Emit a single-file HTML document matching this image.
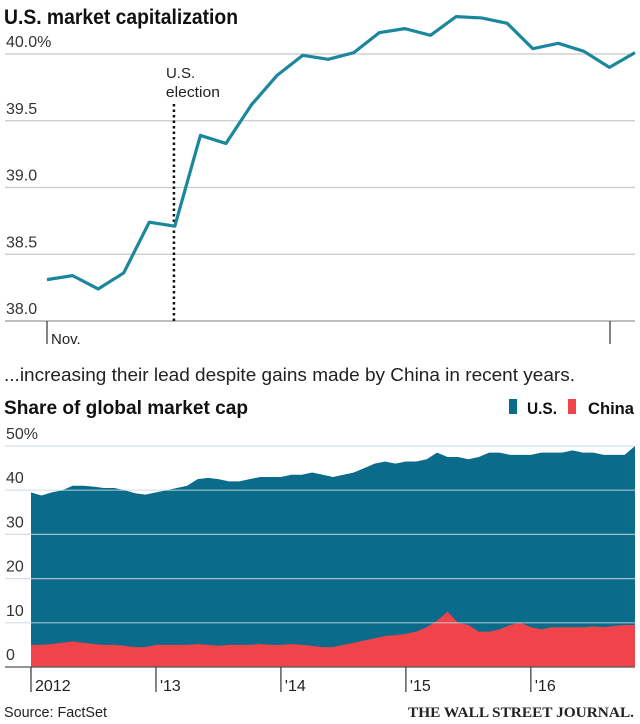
<!DOCTYPE html>
<html><head><meta charset="utf-8">
<style>
html,body{margin:0;padding:0;background:#fff;}
svg{display:block;font-family:"Liberation Sans Narrow","Liberation Sans",sans-serif;}
</style></head>
<body>
<svg id="c" width="640" height="724" viewBox="0 0 640 724">
<text x="4" y="24" font-size="21" font-weight="bold" fill="#111" textLength="234" lengthAdjust="spacingAndGlyphs">U.S. market capitalization</text>
<g id="top"></g>
<text x="4" y="381" font-size="18.5" fill="#222" textLength="571" lengthAdjust="spacingAndGlyphs">...increasing their lead despite gains made by China in recent years.</text>
<text x="4" y="414" font-size="19" font-weight="bold" fill="#111" textLength="244" lengthAdjust="spacingAndGlyphs">Share of global market cap</text>
<g>
<rect x="509" y="399" width="8" height="15" fill="#0b6b8a"/>
<text x="527" y="414" font-size="17" font-weight="bold" fill="#111" textLength="30" lengthAdjust="spacingAndGlyphs">U.S.</text>
<rect x="568" y="399" width="8" height="15" fill="#f0434a"/>
<text x="588" y="414" font-size="17" font-weight="bold" fill="#111" textLength="46" lengthAdjust="spacingAndGlyphs">China</text>
</g>
<g id="bot"></g>
<text x="4" y="717" font-size="15" fill="#222" textLength="103" lengthAdjust="spacingAndGlyphs">Source: FactSet</text>
<text x="408" y="717" font-size="15" font-family="Liberation Serif,serif" font-weight="bold" fill="#222" textLength="226" lengthAdjust="spacingAndGlyphs">THE WALL STREET JOURNAL.</text>
</svg>
<script>
const topValues=[38.31,38.34,38.24,38.36,38.74,38.71,39.39,39.33,39.62,39.84,39.99,39.96,40.01,40.16,40.19,40.14,40.28,40.27,40.23,40.04,40.08,40.02,39.90,40.01];
const topTicks=[38.0,38.5,39.0,39.5,40.0];
const topTickLabels=["38.0","38.5","39.0","39.5","40.0%"];
const electionIndex=5.2;
const usShare=[39.5,38.8,39.5,40,41,41,40.8,40.5,40.5,40,39.3,39,
39.5,40,40.5,41,42.5,42.8,42.5,42,42,42.5,43,43,
43,43.5,43.5,44,43.5,43,43.5,44,45,46,46.5,46,
46.5,46.5,47,48.5,47.5,47.5,47,47.5,48.5,48.5,48,48,
48,48.5,48.5,48.5,49,48.5,48.5,48,48,48,50];
const chinaShare=[5,5,5.2,5.5,5.8,5.5,5.2,5,5,4.8,4.5,4.5,
5,5,5,5,5.2,5,4.8,5,5,5,5.2,5,
5,5.2,5,4.8,4.5,4.5,5,5.5,6,6.5,7,7.2,
7.5,8,9,10.5,12.5,10,9.5,8,8,8.5,9.5,10,
9,8.5,9,9,9,9,9.2,9,9.3,9.5,9.5];
const botTicks=[0,10,20,30,40,50];
const botTickLabels=["0","10","20","30","40","50%"];
const yearLabels=["2012","'13","'14","'15","'16"];

const NS="http://www.w3.org/2000/svg";
function mk(tag,attrs,parent,txt){const e=document.createElementNS(NS,tag);for(const k in attrs)e.setAttribute(k,attrs[k]);if(txt!==undefined)e.textContent=txt;parent.appendChild(e);return e;}

const T=document.getElementById('top');
const tx=i=>47+i*(635-47)/(topValues.length-1);
const ty=v=>321-(v-38)*133.5;
topTicks.forEach((t,i)=>{
 const l=mk('line',{x1:5,x2:635,y1:ty(t),y2:ty(t),stroke:i===0?'#999':'#c8c8c8','stroke-width':1.2},T);
 
 
 const tl=mk('text',{x:6,y:ty(t)-7,'font-size':16,fill:'#333'},T,topTickLabels[i]);
 
 
});
const ex=tx(electionIndex)-6;
const el=mk('line',{x1:ex,x2:ex,y1:104,y2:321,stroke:'#111','stroke-width':2.5,'stroke-dasharray':'2.5,3'},T);


const e1=mk('text',{x:ex-8,y:78,'font-size':15,fill:'#222'},T,'U.S.');


const e2=mk('text',{x:ex-8,y:97,'font-size':15,fill:'#222','textLength':54,'lengthAdjust':'spacingAndGlyphs'},T,'election');


const tp=mk('polyline',{points:topValues.map((v,i)=>tx(i)+','+ty(v)).join(' '),fill:'none',stroke:'#1b879c','stroke-width':3.2,'stroke-linejoin':'round'},T);


const t1=mk('line',{x1:47,x2:47,y1:321,y2:344,stroke:'#333','stroke-width':1.2},T);


const t2=mk('line',{x1:610,x2:610,y1:321,y2:344,stroke:'#333','stroke-width':1.2},T);


const nv=mk('text',{x:51,y:344,'font-size':15,fill:'#222'},T,'Nov.');



const B=document.getElementById('bot');
const bx=i=>31+i*(635-31)/(usShare.length-1);
const by=v=>667-v*4.42;
function area(arr){return 'M'+bx(0)+','+by(0)+' '+arr.map((v,i)=>'L'+bx(i)+','+by(v)).join(' ')+' L'+bx(arr.length-1)+','+by(0)+'Z';}
const ua=mk('path',{d:area(usShare),fill:'#0b6b8a'},B);


const ca=mk('path',{d:area(chinaShare),fill:'#f0434a'},B);


botTicks.forEach((t,i)=>{
 const l=mk('line',{x1:5,x2:635,y1:by(t),y2:by(t),stroke:i===0?'#555':'#c8d8e0','stroke-width':1.2,'stroke-opacity':i===0?1:0.8},B);
 
 
 const tl=mk('text',{x:6,y:by(t)-7,'font-size':16,fill:'#333'},B,botTickLabels[i]);
 
 
});
yearLabels.forEach((s,i)=>{
 const x=bx(i*12);
 const l=mk('line',{x1:x,x2:x,y1:667,y2:692,stroke:'#333','stroke-width':1.2},B);
 
 
 const tl=mk('text',{x:x+4,y:691,'font-size':16,fill:'#222'},B,s);
 
 
});
</script>
</body></html>
